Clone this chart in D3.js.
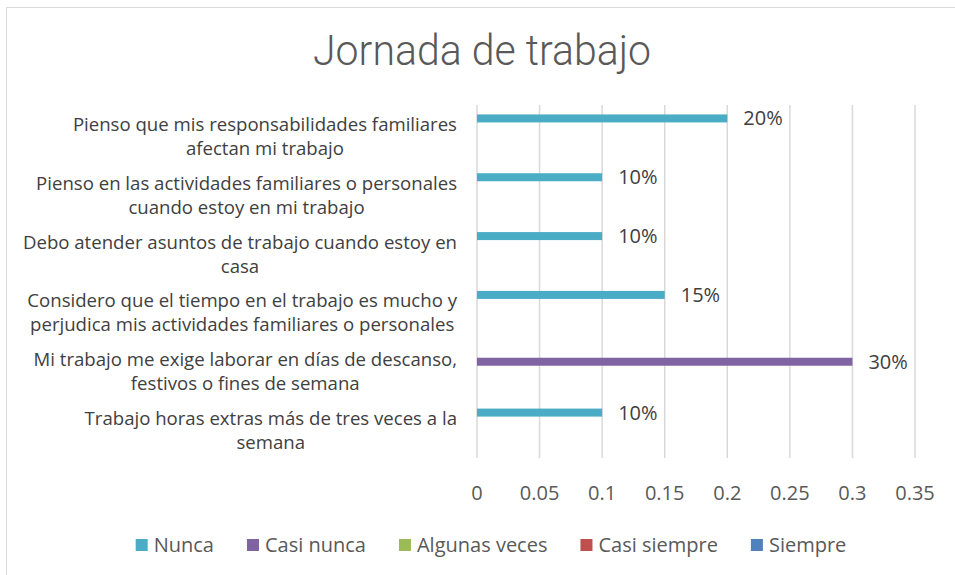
<!DOCTYPE html>
<html>
<head>
<meta charset="utf-8">
<script src="https://cdn.jsdelivr.net/npm/d3@7"></script>
<style>
  body { margin: 0; background: #fff; }
  svg { display: block; }
</style>
</head>
<body>
<svg width="955" height="575"></svg>
<script>
const categories = [
  ["Pienso que mis responsabilidades familiares", "afectan mi trabajo"],
  ["Pienso en las actividades familiares o personales", "cuando estoy en mi trabajo"],
  ["Debo atender asuntos de trabajo cuando estoy en", "casa"],
  ["Considero que el tiempo en el trabajo es mucho y", "perjudica mis actividades familiares o personales"],
  ["Mi trabajo me exige laborar en días de descanso,", "festivos o fines de semana"],
  ["Trabajo horas extras más de tres veces a la", "semana"]
];
const seriesNames = ["Nunca", "Casi nunca", "Algunas veces", "Casi siempre", "Siempre"];
const seriesColors = ["#4BACC6", "#8064A2", "#9BBB59", "#C0504D", "#4F81BD"];
const nunca = [0.2, 0.1, 0.1, 0.15, null, 0.1];
const casiNunca = [null, null, null, null, 0.3, null];
const algunasVeces = [null, null, null, null, null, null];
const casiSiempre = [null, null, null, null, null, null];
const siempre = [null, null, null, null, null, null];
const xTicks = [0, 0.05, 0.1, 0.15, 0.2, 0.25, 0.3, 0.35];

const seriesValues = [nunca, casiNunca, algunasVeces, casiSiempre, siempre];

const svg = d3.select("svg");
const font = "'Open Sans', sans-serif";

// chart border
svg.append("rect")
  .attr("x", 6.5).attr("y", 7.5)
  .attr("width", 960).attr("height", 580)
  .attr("fill", "#fff").attr("stroke", "#d9d9d9");

// title (condensed look: squeeze glyphs to the measured width)
svg.append("text")
  .attr("x", 482).attr("y", 65)
  .attr("text-anchor", "middle")
  .attr("font-family", "Roboto").attr("font-weight", 300)
  .attr("font-size", 42).attr("fill", "#595959")
  .attr("textLength", 338).attr("lengthAdjust", "spacingAndGlyphs")
  .text("Jornada de trabajo");

const x = d3.scaleLinear().domain([0, 0.35]).range([477, 915]);
const y = d3.scaleBand().domain(d3.range(categories.length)).range([105, 458]).paddingInner(0.32).paddingOuter(0.16);
const ys = d3.scaleBand().domain(d3.range(seriesNames.length)).range([0, y.bandwidth()]);

// gridlines
svg.append("g").selectAll("line").data(xTicks).enter().append("line")
  .attr("x1", d => x(d)).attr("x2", d => x(d))
  .attr("y1", 105).attr("y2", 458)
  .attr("stroke", "#d9d9d9").attr("stroke-width", 1.5);

// x tick labels
svg.append("g").selectAll("text").data(xTicks).enter().append("text")
  .attr("x", d => x(d)).attr("y", 500)
  .attr("text-anchor", "middle")
  .attr("font-family", font).attr("font-size", 20).attr("fill", "#595959")
  .text(d => String(+d.toFixed(2)));

// bars
const rows = [];
seriesValues.forEach((vals, s) => vals.forEach((v, c) => { if (v != null) rows.push({ s, c, v }); }));

svg.append("g").selectAll("rect").data(rows).enter().append("rect")
  .attr("x", x(0))
  .attr("y", d => y(d.c) + ys(d.s))
  .attr("width", d => x(d.v) - x(0))
  .attr("height", ys.bandwidth())
  .attr("fill", d => seriesColors[d.s]);

// data labels
svg.append("g").selectAll("text").data(rows).enter().append("text")
  .attr("x", d => x(d.v) + 16)
  .attr("y", d => y(d.c) + ys(d.s) + ys.bandwidth() / 2)
  .attr("dy", "0.35em")
  .attr("font-family", font).attr("font-size", 20).attr("fill", "#404040")
  .text(d => Math.round(d.v * 100) + "%");

// category labels, each block centred and right-aligned at x=457
const catFont = 18.6;
categories.forEach((lines, i) => {
  const g = svg.append("g");
  const cy = y(i) + y.bandwidth() / 2 + 2;
  const t = g.selectAll("text").data(lines).enter().append("text")
    .attr("y", (d, j) => cy + (j - (lines.length - 1) / 2) * 24)
    .attr("dy", "0.35em")
    .attr("text-anchor", "middle")
    .attr("font-family", font).attr("font-size", catFont).attr("fill", "#404040")
    .text(d => d);
  const w = d3.max(t.nodes(), n => n.getComputedTextLength());
  t.attr("x", 457 - w / 2);
});

// legend
const legend = svg.append("g");
let lx = 0;
seriesNames.forEach((name, i) => {
  const item = legend.append("g").attr("transform", `translate(${lx},0)`);
  item.append("rect").attr("x", 0).attr("y", -6).attr("width", 12).attr("height", 12)
    .attr("fill", seriesColors[i]);
  const t = item.append("text").attr("x", 18).attr("dy", "0.35em")
    .attr("font-family", font).attr("font-size", 20).attr("fill", "#595959")
    .text(name);
  lx += 18 + t.node().getComputedTextLength() + 33;
});
const lw = lx - 33;
legend.attr("transform", `translate(${491 - lw / 2},545)`);
</script>
</body>
</html>
